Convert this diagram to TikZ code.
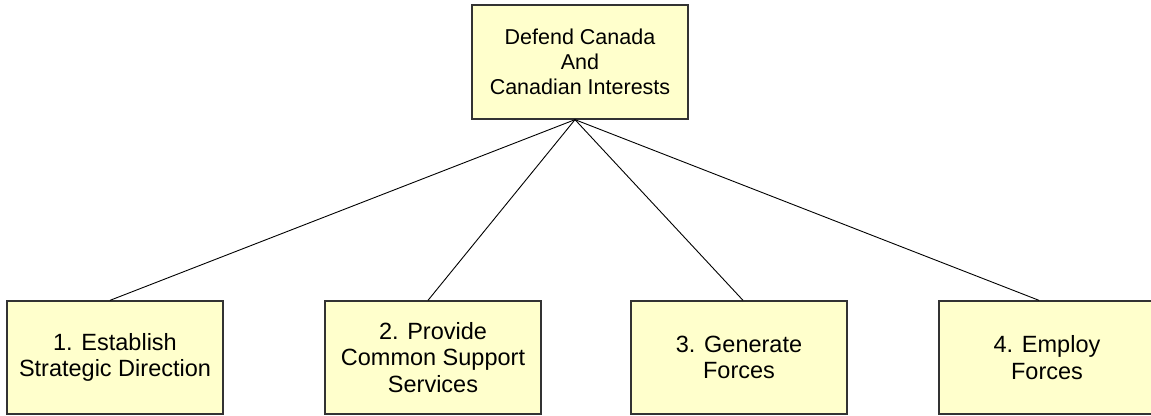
\documentclass[tikz,border=0pt]{standalone}
\usepackage{fontspec}
\setmainfont{Liberation Sans}
\definecolor{boxfill}{HTML}{FFFFCC}
\definecolor{boxline}{HTML}{333333}
\begin{document}
\begin{tikzpicture}[x=1pt,y=-1pt,
  fbox/.style={rectangle, draw=boxline, line width=1.3pt, fill=boxfill,
    minimum width=216pt, minimum height=113pt, inner sep=0pt,
    align=center, font=\fontsize{23.5}{26.5}\selectfont},
  link/.style={draw=black, line width=0.9pt}]
\useasboundingbox (0,0) rectangle (1151,415);
\node[fbox, minimum height=114pt, font=\fontsize{21.5}{25}\selectfont] (top) at (580,62) {Defend Canada\\And\\Canadian Interests};
\node[fbox] (b1) at (115,357.5) {1. Establish\\Strategic Direction};
\node[fbox] (b2) at (433,357.5) {2. Provide\\Common Support\\Services};
\node[fbox] (b3) at (739,357.5) {3. Generate\\Forces};
\node[fbox] (b4) at (1047,357.5) {4. Employ\\Forces};
\coordinate (apex) at ([xshift=-5pt]top.south);
\draw[link] (apex) -- ([xshift=-5pt]b1.north);
\draw[link] (apex) -- ([xshift=-5pt]b2.north);
\draw[link] (apex) -- ([xshift=4pt]b3.north);
\draw[link] (apex) -- ([xshift=-8pt]b4.north);
\end{tikzpicture}
\end{document}
